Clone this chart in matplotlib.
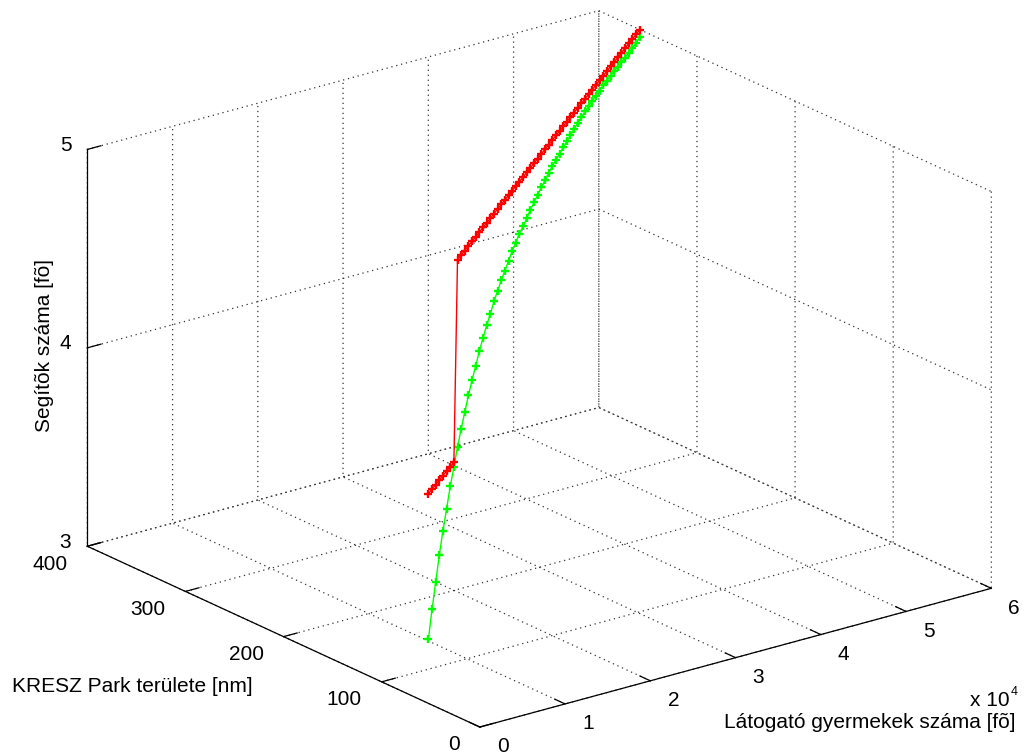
import matplotlib
matplotlib.use('Agg')

import matplotlib.pyplot as plt

plt.rcParams['font.family'] = ['Liberation Sans', 'DejaVu Sans']
plt.rcParams['font.size'] = 15
plt.rcParams['grid.linestyle'] = ':'
plt.rcParams['grid.color'] = '#333333'
plt.rcParams['grid.linewidth'] = 0.9
plt.rcParams['lines.dotted_pattern'] = [1, 3]

# number of visiting children
children = [10240, 11100, 11960, 12810, 13670, 14530, 15390, 16250, 17100, 17960,
            18820, 19680, 20540, 21390, 22250, 23110, 23970, 24830, 25680, 26540,
            27400, 28260, 29120, 29970, 30830, 31690, 32550, 33410, 34260, 35120,
            35980, 36840, 37700, 38550, 39410, 40270, 41130, 41990, 42840, 43700,
            44560, 45420, 46280, 47130, 47990, 48850, 49710, 50570, 51420, 52280,
            53140, 54000, 54860, 55710, 56570, 57430, 58290, 59150, 60000]
# park area
area = [141.4, 145.1, 148.9, 152.6, 156.4, 160.1, 163.8, 167.6, 171.3, 175.1,
        178.8, 182.6, 186.3, 190.0, 193.8, 197.5, 201.3, 205.0, 208.7, 212.5,
        216.2, 220.0, 223.7, 227.4, 231.2, 234.9, 238.7, 242.4, 246.1, 249.9,
        253.6, 257.4, 261.1, 264.9, 268.6, 272.3, 276.1, 279.8, 283.6, 287.3,
        291.0, 294.8, 298.5, 302.3, 306.0, 309.7, 313.5, 317.2, 321.0, 324.7,
        328.5, 332.2, 335.9, 339.7, 343.4, 347.2, 350.9, 354.6, 358.4]
# helpers, continuous solution
helpers_green = [3.000, 3.134, 3.252, 3.368, 3.473, 3.566, 3.661, 3.740, 3.821, 3.895,
                 3.961, 4.026, 4.086, 4.139, 4.193, 4.242, 4.287, 4.325, 4.371, 4.405,
                 4.439, 4.469, 4.501, 4.531, 4.556, 4.583, 4.601, 4.624, 4.647, 4.666,
                 4.685, 4.705, 4.721, 4.738, 4.755, 4.769, 4.781, 4.795, 4.806, 4.818,
                 4.832, 4.844, 4.853, 4.865, 4.874, 4.883, 4.889, 4.896, 4.905, 4.909,
                 4.916, 4.920, 4.924, 4.928, 4.933, 4.938, 4.943, 4.950, 4.960]
# helpers, second solution
helpers_red = [3.734, 3.739, 3.743, 3.748, 3.752, 3.756, 3.760, 3.764, 4.766, 4.771,
               4.775, 4.780, 4.785, 4.789, 4.794, 4.799, 4.803, 4.808, 4.813, 4.817,
               4.822, 4.827, 4.831, 4.836, 4.841, 4.845, 4.850, 4.854, 4.859, 4.864,
               4.868, 4.873, 4.878, 4.882, 4.887, 4.892, 4.896, 4.901, 4.906, 4.910,
               4.915, 4.920, 4.924, 4.929, 4.934, 4.938, 4.943, 4.948, 4.952, 4.957,
               4.962, 4.966, 4.971, 4.976, 4.980, 4.985, 4.990, 4.994, 4.999]

x_ticks = [0, 10000, 20000, 30000, 40000, 50000, 60000]
x_ticklabels = ['0', '1', '2', '3', '4', '5', '6']
y_ticks = [0, 100, 200, 300, 400]
z_ticks = [3, 4, 5]

fig = plt.figure(figsize=(10.24, 7.54), dpi=100)
# square axes, larger than the figure so nothing gets clipped
side = 1060
ax = fig.add_axes([(525.0 - side / 2) / 1024, 1 - (383.2 + side / 2) / 754,
                   side / 1024, side / 754], projection='3d', proj_type='ortho')
ax.view_init(elev=20.7, azim=-127.5)
ax.set_box_aspect((1.52, 1.52, 1), zoom=0.921)

ax.plot(children, area, helpers_green, color='#00ff00', lw=1,
        marker='+', ms=6, mew=1.7)
ax.plot(children, area, helpers_red, color='#ff0000', lw=1,
        marker='+', ms=6, mew=1.7)

ax.set_xlim(0, 60000)
ax.set_ylim(0, 400)
ax.set_zlim(3, 5)
ax.set_xticks(x_ticks)
ax.set_yticks(y_ticks)
ax.set_zticks(z_ticks)
ax.set_xticklabels([])
ax.set_yticklabels([])
ax.set_zticklabels([])

for axis in (ax.xaxis, ax.yaxis, ax.zaxis):
    axis.set_pane_color((1, 1, 1, 0))
    axis.pane.set_edgecolor('none')
    axis.line.set_linewidth(0.9)
    axis.line.set_color('black')
    axis._axinfo['tick']['outward_factor'] = 0.33
    axis._axinfo['tick']['inward_factor'] = 0.0
    axis._axinfo['tick']['linewidth'] = {True: 0.9, False: 0.9}

# tick labels placed in data space just outside the box
for xt, lab in zip(x_ticks, x_ticklabels):
    ax.text(xt, -23.4, 2.953, lab, ha='center', va='center')
for yt in y_ticks:
    ax.text(-2340, yt, 2.937, str(yt), ha='right', va='center')
for zt in z_ticks:
    ax.text(-1180, 406, zt + 0.02, str(zt), ha='right', va='center')

fig.text(12 / 1024, 1 - 686 / 754, 'KRESZ Park területe [nm]', ha='left', va='center')
fig.text(1016 / 1024, 1 - 722 / 754, 'Látogató gyermekek száma [fõ]', ha='right', va='center')
fig.text(1010 / 1024, 1 - 701 / 754, 'x 10', ha='right', va='center')
fig.text(1011 / 1024, 1 - 692 / 754, '4', ha='left', va='center', fontsize=9)
fig.text(45 / 1024, 1 - 345 / 754, 'Segítõk száma [fõ]', ha='center', va='center', rotation=90)

fig.savefig('out.png', dpi=100)
